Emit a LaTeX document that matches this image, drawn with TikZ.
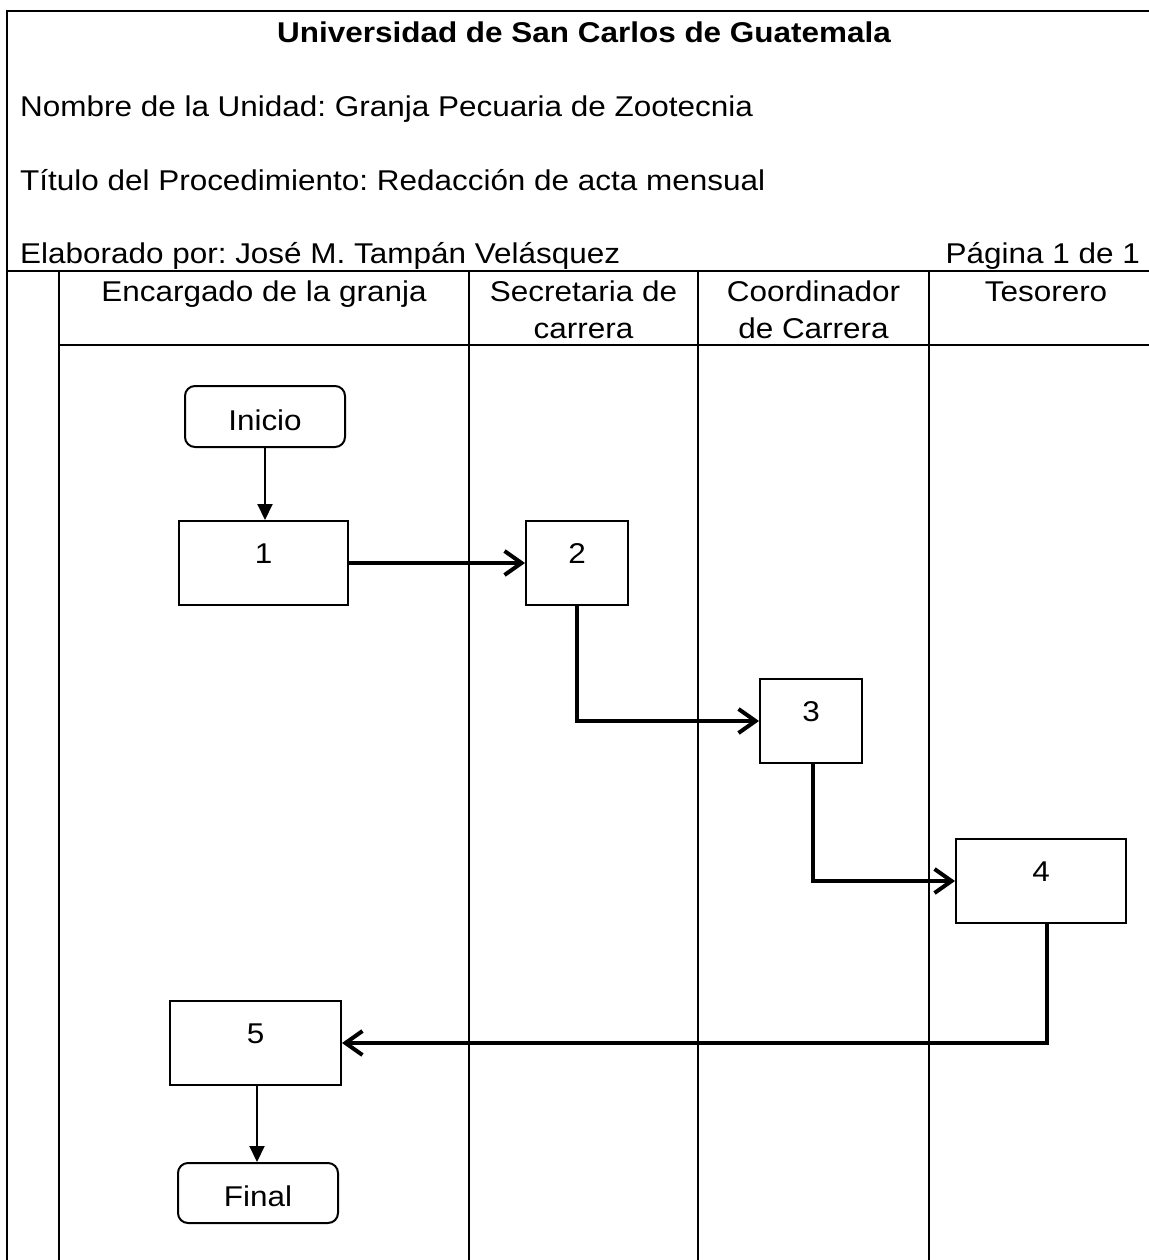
\documentclass[tikz,border=0pt]{standalone}
\usepackage{fontspec}
\setmainfont{Liberation Sans}[FakeStretch=1.1]
\usetikzlibrary{arrows.meta,calc}
\frenchspacing
\begin{document}
\begin{tikzpicture}[x=1pt,y=-1pt,
  every node/.style={font=\fontsize{28.6}{37}\selectfont, inner sep=0pt},
  grid/.style={line width=2.8pt, line cap=rect},
  box/.style={draw, line width=2pt, minimum height=84pt},
  term/.style={draw, line width=2pt, rounded corners=10pt, minimum width=160pt, minimum height=61pt},
  thick conn/.style={line width=4pt, -{Straight Barb[length=17pt,width=24pt]}},
  thin conn/.style={line width=2pt, -{Triangle[length=16pt,width=15pt]}},
  txt/.style={anchor=base}]
\useasboundingbox (0,0) rectangle (1148,1260);
% frame and lanes
\draw[grid] (7,1270) -- (7,11) -- (1160,11);
\draw[grid] (7,271) -- (1160,271);
\draw[grid] (59,345) -- (1160,345);
\foreach \xx in {59,469,698,929} \draw[grid] (\xx,271) -- (\xx,1270);
% header texts
\node[txt] (title) at (584,43) {\bfseries Universidad de San Carlos de Guatemala};
\node[anchor=base west] (unidad) at (20,117) {Nombre de la Unidad: Granja Pecuaria de Zootecnia};
\node[anchor=base west] (titulo) at (20,191) {Título del Procedimiento: Redacción de acta mensual};
\node[anchor=base west] (elab) at (20,263) {Elaborado por: José M. Tampán Velásquez};
\node[anchor=base east] (pag) at (1140,263) {Página 1 de 1};
% lane headers
\node[txt] (h1) at (264,301) {Encargado de la granja};
\node[txt] (h2a) at (583.5,301) {Secretaria de};
\node[txt] (h2b) at (583.5,338) {carrera};
\node[txt] (h3a) at (813.5,301) {Coordinador};
\node[txt] (h3b) at (813.5,338) {de Carrera};
\node[txt] (h4) at (1046,301) {Tesorero};
% flow nodes
\node[term] (inicio) at (265,416.5) {};
\node[txt] (tini) at (265,430) {Inicio};
\node[box, minimum width=169pt] (b1) at (263.5,563) {};
\node[box, minimum width=102pt] (b2) at (577,563) {};
\node[box, minimum width=102pt] (b3) at (811,721) {};
\node[box, minimum width=170pt] (b4) at (1041,881) {};
\node[box, minimum width=171pt] (b5) at (255.5,1043) {};
\node[term, minimum height=60pt] (final) at (258,1193) {};
\node[txt] (tfin) at (258,1206) {Final};
\node[txt] (t1) at (b1.center) {1};
\node[txt] (t2) at (b2.center) {2};
\node[txt] (t3) at (b3.center) {3};
\node[txt] (t4) at (b4.center) {4};
\node[txt] (t5) at (b5.center) {5};
% connectors
\draw[thin conn] (inicio.south) -- (inicio.south |- b1.north);
\draw[thick conn] (b1.east) -- (b2.west);
\draw[thick conn] (b2.south) |- (b3.west);
\draw[thick conn] ([xshift=2pt]b3.south) |- (b4.west);
\draw[thick conn] ([xshift=6pt]b4.south) |- (b5.east);
\draw[thin conn] ([xshift=1.5pt]b5.south) -- ([xshift=1.5pt]b5.south |- final.north);
\end{tikzpicture}
\end{document}
